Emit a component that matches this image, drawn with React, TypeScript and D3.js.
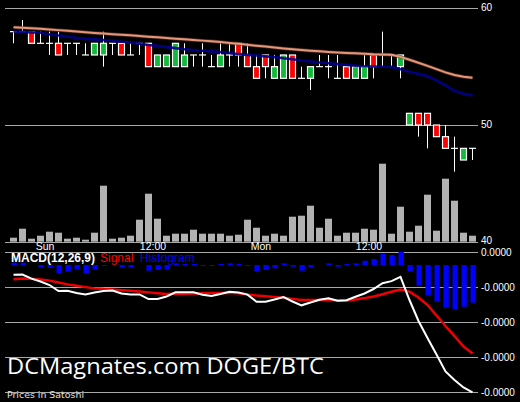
import React from "react";
import * as d3 from "d3";

const W = 520;
const H = 402;

// Hourly candles (prices in satoshi)
const opens = [58,58,58,57,57,57,57,57,56,56,56,57,57,56,57,57,55,55,55,55,56,56,55,55,56,57,56,55,56,54,54,56,54,54,55,55,54,55,54,54,56,56,56,55,50,51,51,50,49,48,47,48];
const highs = [58,59,58,58,58,58,57,57,57,57,58,57,57,57,57,57,56,56,57,57,56,57,56,57,57,57,57,56,56,56,56,56,55,55,56,56,56,55,55,56,56,58,56,56,51,51,51,50,50,49,48,48];
const lows = [57,58,57,57,56,56,56,56,56,56,55,56,56,56,56,55,55,55,55,55,55,55,55,55,55,55,55,54,54,54,54,54,54,53,55,54,54,54,54,54,54,55,55,54,50,49,48,49,48,46,47,47];
const closes = [58,58,57,57,57,56,57,57,56,57,57,57,56,56,57,55,56,56,57,56,56,56,55,56,56,56,55,54,55,55,56,54,54,55,55,55,54,54,55,55,55,56,56,56,51,50,50,49,48,48,48,48];
const volumes = [4,13,3,6,10,9,3,4,2,9,56,3,4,6,22,48,23,6,8,8,12,8,8,8,6,7,22,14,6,8,6,25,26,36,14,23,6,9,9,13,12,78,8,35,10,16,47,11,63,41,9,6];
const emaSlow = [58.37,58.33,58.29,58.24,58.18,58.13,58.07,58.01,57.95,57.89,57.84,57.78,57.73,57.69,57.63,57.57,57.51,57.45,57.39,57.34,57.28,57.23,57.17,57.11,57.03,56.96,56.87,56.79,56.72,56.64,56.56,56.49,56.42,56.36,56.31,56.26,56.22,56.18,56.14,56.11,56.07,56.05,56.02,55.84,55.59,55.33,55.07,54.79,54.51,54.28,54.14,54.04];
const emaFast = [58.01,57.98,57.94,57.9,57.75,57.67,57.58,57.45,57.38,57.34,57.29,57.21,57.14,57.07,56.97,56.86,56.78,56.67,56.59,56.49,56.42,56.36,56.31,56.26,56.18,56.07,56.01,55.95,55.88,55.82,55.72,55.63,55.53,55.44,55.36,55.29,55.22,55.15,55.08,55.03,55.01,54.99,54.98,54.77,54.56,54.38,54.17,53.83,53.4,52.93,52.67,52.54];

// MACD (satoshi units)
const macdLine = [-0.331,-0.326,-0.384,-0.426,-0.476,-0.561,-0.559,-0.59,-0.611,-0.583,-0.561,-0.554,-0.597,-0.611,-0.611,-0.676,-0.676,-0.64,-0.58,-0.58,-0.58,-0.614,-0.633,-0.604,-0.573,-0.583,-0.613,-0.714,-0.714,-0.683,-0.647,-0.711,-0.766,-0.726,-0.686,-0.664,-0.701,-0.694,-0.643,-0.597,-0.533,-0.451,-0.42,-0.36,-0.69,-0.99,-1.233,-1.469,-1.711,-1.833,-1.94,-2.011];
const signalLine = [-0.393,-0.383,-0.387,-0.397,-0.413,-0.44,-0.467,-0.487,-0.506,-0.524,-0.534,-0.541,-0.55,-0.559,-0.569,-0.581,-0.593,-0.604,-0.601,-0.599,-0.596,-0.593,-0.591,-0.589,-0.587,-0.594,-0.61,-0.627,-0.637,-0.647,-0.656,-0.674,-0.69,-0.69,-0.69,-0.69,-0.696,-0.7,-0.683,-0.663,-0.639,-0.607,-0.573,-0.539,-0.57,-0.654,-0.761,-0.911,-1.061,-1.207,-1.353,-1.454];
const histogram = [0.23,0.23,0,-0.27,-0.27,-0.83,-0.67,-0.43,-0.83,-0.43,-0.1,0,-0.27,-0.27,0,-0.57,-0.5,-0.4,0.17,0.1,0.1,-0.1,-0.1,0.1,0.17,0.1,-0.1,-0.67,-0.5,-0.33,0.17,-0.17,-0.57,-0.23,0,0.17,-0.17,0.1,0.17,0.43,0.6,1.1,1.0,1.33,-0.6,-2.07,-3.0,-3.67,-4.27,-4.4,-4.17,-3.77];

const priceTicks = [60, 50, 40];
const macdTicks = [0, -0.5, -1, -1.5, -2];
const timeTickPositions = [3.5, 15.5, 27.5, 39.5];
const timeTickLabels = ["Sun", "12:00", "Mon", "12:00"];

const GREEN = "#12b93a";
const RED = "#ff0000";
const GRID = "#a8a8a8";
const FONT = "'Liberation Sans', Arial, sans-serif";

export default function App() {
  const n = opens.length;
  const x = d3.scaleLinear().domain([-0.5, n - 0.5]).range([9, 477]);
  const y = d3.scaleLinear().domain([40, 60]).range([241.7, 8.3]);
  const volY = d3.scaleLinear().domain([0, 100]).range([241.7, 141.7]);
  const macdY = d3.scaleLinear().domain([-2, 0]).range([391.7, 251.7]);
  const histY = d3.scaleLinear().domain([-1, 0]).range([275, 265]);
  const gridX0 = 5;
  const gridX1 = 478;

  const lineP = (vals: number[]) =>
    d3.line<number>().x((_, i) => x(i)).y((v) => y(v))(vals) || "";
  const lineM = (vals: number[]) =>
    d3.line<number>().x((_, i) => x(i)).y((v) => macdY(v))(vals) || "";

  return (
    <svg
      width={W}
      height={H}
      style={{ position: "absolute", left: 0, top: 0, background: "#000", display: "block" }}
    >
      <rect x={0} y={0} width={W} height={H} fill="#000" />
      {/* price grid */}
      {priceTicks.map((t) => (
        <g key={"pt" + t}>
          <line x1={gridX0} x2={gridX1} y1={Math.round(y(t)) + 0.5} y2={Math.round(y(t)) + 0.5} stroke={GRID} strokeWidth={1} />
          <text x={481} y={y(t) - 1} dy="0.35em" fill="#fff" fontSize={10} fontFamily={FONT}>
            {t}
          </text>
        </g>
      ))}
      {/* volume */}
      {volumes.map((v, i) => (
        <rect key={"v" + i} x={x(i) - 3.5} y={volY(v)} width={7} height={volY(0) - volY(v)} fill="#b2b2b2" />
      ))}
      {/* candles */}
      {opens.map((o, i) => {
        const c = closes[i];
        const cx = x(i);
        const wick = (
          <line x1={cx} x2={cx} y1={y(highs[i])} y2={y(lows[i])} stroke="#fff" strokeWidth={1} />
        );
        if (o === c) {
          return (
            <g key={"c" + i}>
              {wick}
              <line x1={cx - 3.5} x2={cx + 3.5} y1={y(o)} y2={y(o)} stroke="#fff" strokeWidth={1.2} />
            </g>
          );
        }
        const top = y(Math.max(o, c));
        const bot = y(Math.min(o, c));
        return (
          <g key={"c" + i}>
            {wick}
            <rect x={cx - 3} y={top} width={6} height={bot - top} fill={c > o ? GREEN : RED} stroke="#fff" strokeWidth={1.2} />
          </g>
        );
      })}
      {/* moving averages */}
      <path d={lineP(emaSlow)} fill="none" stroke="#6b3a28" strokeWidth={3.5} opacity={0.7} />
      <path d={lineP(emaSlow)} fill="none" stroke="#eb9c80" strokeWidth={2} opacity={0.95} />
      <path d={lineP(emaFast)} fill="none" stroke="#00008c" strokeWidth={2.6} opacity={0.9} />

      {/* time axis labels */}
      {timeTickPositions.map((p, k) => (
        <text key={"tt" + k} x={x(p)} y={249.5} textAnchor="middle" fill="#fff" fontSize={10.5} fontFamily={FONT}>
          {timeTickLabels[k]}
        </text>
      ))}

      {/* MACD grid */}
      {macdTicks.map((t) => (
        <g key={"mt" + t}>
          <line x1={gridX0} x2={gridX1} y1={Math.round(macdY(t)) + 0.5} y2={Math.round(macdY(t)) + 0.5} stroke={GRID} strokeWidth={1} />
          <text x={481} y={macdY(t) + 0.5} dy="0.35em" fill="#fff" fontSize={10} fontFamily={FONT}>
            {(t * 1e-8).toFixed(4)}
          </text>
        </g>
      ))}
      {/* histogram */}
      {histogram.map((h, i) => (
        <rect
          key={"h" + i}
          x={x(i) - 2}
          y={Math.min(histY(h), histY(0))}
          width={5.3}
          height={Math.abs(histY(h) - histY(0))}
          fill="#0000ff"
        />
      ))}
      <path d={lineM(signalLine)} fill="none" stroke="#ee0000" strokeWidth={2.5} />
      <path d={lineM(macdLine)} fill="none" stroke="#ffffff" strokeWidth={2} />

      {/* MACD legend */}
      <text x={11} y={261.5} fill="#fff" fontSize={12} fontWeight="bold" fontFamily={FONT}>
        MACD(12,26,9)
      </text>
      <text x={100} y={261.5} fill="#ff0000" fontSize={12} fontFamily={FONT}>
        Signal
      </text>
      <text x={140} y={261.5} fill="#0000ff" fontSize={12} fontFamily={FONT}>
        Histogram
      </text>

      {/* watermark */}
      <text x={7} y={373.5} fill="#fff" fontSize={22.5} fontFamily="'Open Sans', sans-serif" textLength={317} lengthAdjust="spacingAndGlyphs">
        DCMagnates.com DOGE/BTC
      </text>
      <text x={7} y={398} fill="#e0e0e0" fontSize={9} fontFamily="'DejaVu Sans', sans-serif" textLength={77} lengthAdjust="spacingAndGlyphs">
        Prices in Satoshi
      </text>
    </svg>
  );
}
